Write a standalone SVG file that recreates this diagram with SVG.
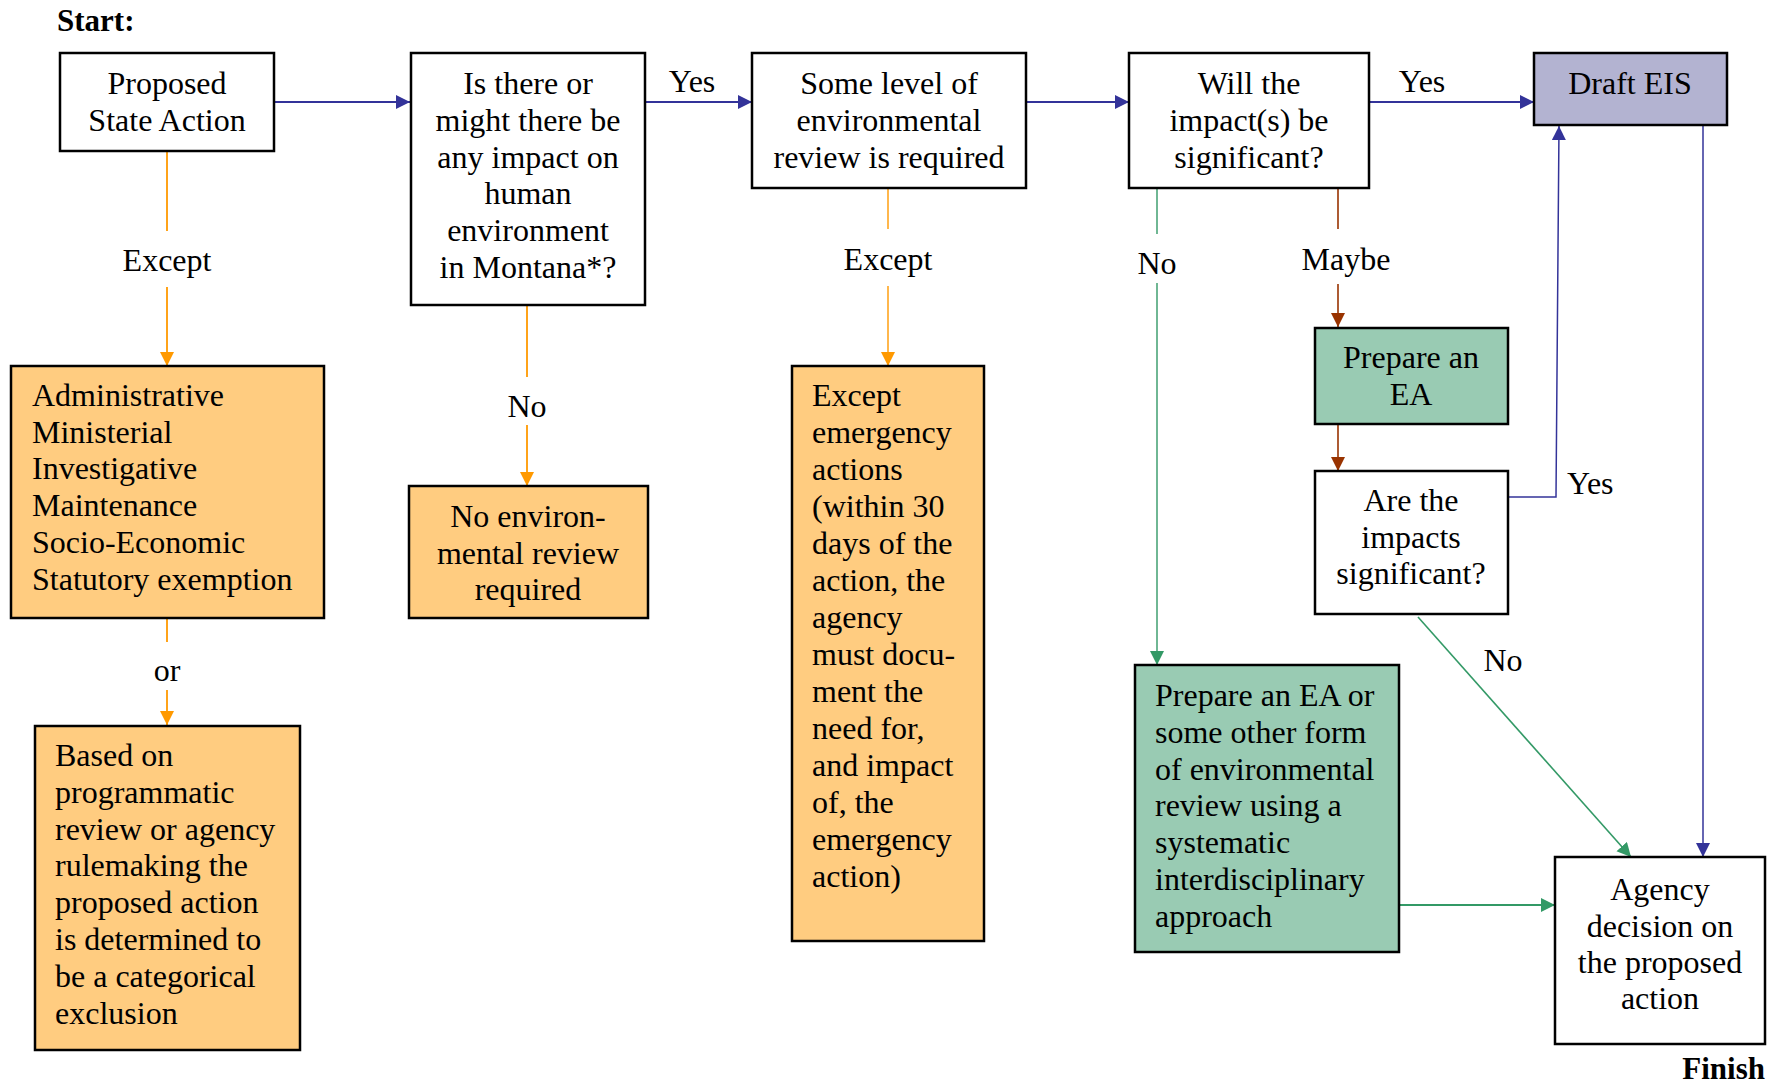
<svg xmlns="http://www.w3.org/2000/svg" width="1775" height="1088" viewBox="0 0 1775 1088">
<style>
.t{font-family:"Liberation Serif","Times New Roman",serif;font-size:32px;fill:#000}
.c{text-anchor:middle}
.b{font-weight:bold;font-size:31px}
.box{stroke:#000;stroke-width:2.5}
.w{fill:#fff}
.o{fill:#ffcc80}
.g{fill:#99cbb3}
.p{fill:#b3b3d1}
.blue{stroke:#333399;fill:none}
.or{stroke:#ff9900;fill:none}
.gr{stroke:#339966;fill:none}
.br{stroke:#993300;fill:none}
</style>
<defs>
<marker id="ab" markerUnits="userSpaceOnUse" markerWidth="15" markerHeight="15" refX="14" refY="7" orient="auto"><path d="M0,0 L14,7 L0,14 z" fill="#333399"/></marker>
<marker id="ao" markerUnits="userSpaceOnUse" markerWidth="15" markerHeight="15" refX="14" refY="7" orient="auto"><path d="M0,0 L14,7 L0,14 z" fill="#ff9900"/></marker>
<marker id="ag" markerUnits="userSpaceOnUse" markerWidth="15" markerHeight="15" refX="14" refY="7" orient="auto"><path d="M0,0 L14,7 L0,14 z" fill="#339966"/></marker>
<marker id="ar" markerUnits="userSpaceOnUse" markerWidth="15" markerHeight="15" refX="14" refY="7" orient="auto"><path d="M0,0 L14,7 L0,14 z" fill="#993300"/></marker>
</defs>
<rect width="1775" height="1088" fill="#fff"/>
<text class="t b" x="57" y="31">Start:</text>
<text class="t b" x="1765" y="1079" text-anchor="end">Finish</text>

<g id="connectors">
<line class="blue" stroke-width="2.2" x1="274" y1="102" x2="410" y2="102" marker-end="url(#ab)"/>
<line class="blue" stroke-width="2.2" x1="645" y1="102" x2="752" y2="102" marker-end="url(#ab)"/>
<text class="t c" x="692" y="92">Yes</text>
<line class="blue" stroke-width="2.2" x1="1026" y1="102" x2="1129" y2="102" marker-end="url(#ab)"/>
<line class="blue" stroke-width="2.2" x1="1369" y1="102" x2="1534" y2="102" marker-end="url(#ab)"/>
<text class="t c" x="1422" y="92">Yes</text>

<line class="or" stroke-width="1.8" x1="167" y1="152" x2="167" y2="231"/>
<line class="or" stroke-width="1.8" x1="167" y1="287" x2="167" y2="366" marker-end="url(#ao)"/>
<text class="t c" x="167" y="271">Except</text>

<line class="or" stroke-width="1.8" x1="167" y1="618" x2="167" y2="642"/>
<line class="or" stroke-width="1.8" x1="167" y1="690" x2="167" y2="725" marker-end="url(#ao)"/>
<text class="t c" x="167" y="681">or</text>

<line class="or" stroke-width="1.8" x1="527" y1="306" x2="527" y2="377"/>
<line class="or" stroke-width="1.8" x1="527" y1="425" x2="527" y2="486" marker-end="url(#ao)"/>
<text class="t c" x="527" y="417">No</text>

<line class="or" stroke-width="1.4" x1="888" y1="189" x2="888" y2="229"/>
<line class="or" stroke-width="1.4" x1="888" y1="286" x2="888" y2="366" marker-end="url(#ao)"/>
<text class="t c" x="888" y="270">Except</text>

<line class="gr" stroke-width="1.4" x1="1157" y1="189" x2="1157" y2="234"/>
<line class="gr" stroke-width="1.4" x1="1157" y1="283" x2="1157" y2="665" marker-end="url(#ag)"/>
<text class="t c" x="1157" y="274">No</text>

<line class="br" stroke-width="1.6" x1="1338" y1="189" x2="1338" y2="229"/>
<line class="br" stroke-width="1.6" x1="1338" y1="284" x2="1338" y2="327" marker-end="url(#ar)"/>
<text class="t c" x="1346" y="270">Maybe</text>

<line class="br" stroke-width="1.6" x1="1338" y1="424" x2="1338" y2="471" marker-end="url(#ar)"/>

<polyline class="blue" stroke-width="1.5" points="1509,497 1556,497 1559,126" marker-end="url(#ab)"/>
<text class="t" x="1567" y="494">Yes</text>

<line class="blue" stroke-width="1.5" x1="1703" y1="126" x2="1703" y2="857" marker-end="url(#ab)"/>

<line class="gr" stroke-width="1.6" x1="1418" y1="617" x2="1631" y2="857" marker-end="url(#ag)"/>
<text class="t c" x="1503" y="671">No</text>

<line class="gr" stroke-width="1.8" x1="1399" y1="905" x2="1555" y2="905" marker-end="url(#ag)"/>
</g>

<g id="n-proposed">
<rect class="box w" x="60" y="53" width="214" height="98"/>
<text class="t c" x="167" y="94">Proposed</text>
<text class="t c" x="167" y="131">State Action</text>
</g>

<g id="n-impact">
<rect class="box w" x="411" y="53" width="234" height="252"/>
<text class="t c" x="528" y="94">Is there or</text>
<text class="t c" x="528" y="131">might there be</text>
<text class="t c" x="528" y="168">any impact on</text>
<text class="t c" x="528" y="204">human</text>
<text class="t c" x="528" y="241">environment</text>
<text class="t c" x="528" y="278">in Montana*?</text>
</g>

<g id="n-somelevel">
<rect class="box w" x="752" y="53" width="274" height="135"/>
<text class="t c" x="889" y="94">Some level of</text>
<text class="t c" x="889" y="131">environmental</text>
<text class="t c" x="889" y="168">review is required</text>
</g>

<g id="n-significant">
<rect class="box w" x="1129" y="53" width="240" height="135"/>
<text class="t c" x="1249" y="94">Will the</text>
<text class="t c" x="1249" y="131">impact(s) be</text>
<text class="t c" x="1249" y="168">significant?</text>
</g>

<g id="n-draft-eis">
<rect class="box p" x="1534" y="53" width="193" height="72"/>
<text class="t c" x="1630" y="94">Draft EIS</text>
</g>

<g id="n-exemptions">
<rect class="box o" x="11" y="366" width="313" height="252"/>
<text class="t" x="32" y="406">Administrative</text>
<text class="t" x="32" y="443">Ministerial</text>
<text class="t" x="32" y="479">Investigative</text>
<text class="t" x="32" y="516">Maintenance</text>
<text class="t" x="32" y="553">Socio-Economic</text>
<text class="t" x="32" y="590">Statutory exemption</text>
</g>

<g id="n-categorical">
<rect class="box o" x="35" y="726" width="265" height="324"/>
<text class="t" x="55" y="766">Based on</text>
<text class="t" x="55" y="803">programmatic</text>
<text class="t" x="55" y="840">review or agency</text>
<text class="t" x="55" y="876">rulemaking the</text>
<text class="t" x="55" y="913">proposed action</text>
<text class="t" x="55" y="950">is determined to</text>
<text class="t" x="55" y="987">be a categorical</text>
<text class="t" x="55" y="1024">exclusion</text>
</g>

<g id="n-noreview">
<rect class="box o" x="409" y="486" width="239" height="132"/>
<text class="t c" x="528" y="527">No environ-</text>
<text class="t c" x="528" y="564">mental review</text>
<text class="t c" x="528" y="600">required</text>
</g>

<g id="n-emergency">
<rect class="box o" x="792" y="366" width="192" height="575"/>
<text class="t" x="812" y="406">Except</text>
<text class="t" x="812" y="443">emergency</text>
<text class="t" x="812" y="480">actions</text>
<text class="t" x="812" y="517">(within 30</text>
<text class="t" x="812" y="554">days of the</text>
<text class="t" x="812" y="591">action, the</text>
<text class="t" x="812" y="628">agency</text>
<text class="t" x="812" y="665">must docu-</text>
<text class="t" x="812" y="702">ment the</text>
<text class="t" x="812" y="739">need for,</text>
<text class="t" x="812" y="776">and impact</text>
<text class="t" x="812" y="813">of, the</text>
<text class="t" x="812" y="850">emergency</text>
<text class="t" x="812" y="887">action)</text>
</g>

<g id="n-prepare-ea">
<rect class="box g" x="1315" y="328" width="193" height="96"/>
<text class="t c" x="1411" y="368">Prepare an</text>
<text class="t c" x="1411" y="405">EA</text>
</g>

<g id="n-are-impacts">
<rect class="box w" x="1315" y="471" width="193" height="143"/>
<text class="t c" x="1411" y="511">Are the</text>
<text class="t c" x="1411" y="548">impacts</text>
<text class="t c" x="1411" y="584">significant?</text>
</g>

<g id="n-prepare-ea-other">
<rect class="box g" x="1135" y="665" width="264" height="287"/>
<text class="t" x="1155" y="706">Prepare an EA or</text>
<text class="t" x="1155" y="743">some other form</text>
<text class="t" x="1155" y="780">of environmental</text>
<text class="t" x="1155" y="816">review using a</text>
<text class="t" x="1155" y="853">systematic</text>
<text class="t" x="1155" y="890">interdisciplinary</text>
<text class="t" x="1155" y="927">approach</text>
</g>

<g id="n-agency-decision">
<rect class="box w" x="1555" y="857" width="210" height="187"/>
<text class="t c" x="1660" y="900">Agency</text>
<text class="t c" x="1660" y="937">decision on</text>
<text class="t c" x="1660" y="973">the proposed</text>
<text class="t c" x="1660" y="1009">action</text>
</g>
</svg>
